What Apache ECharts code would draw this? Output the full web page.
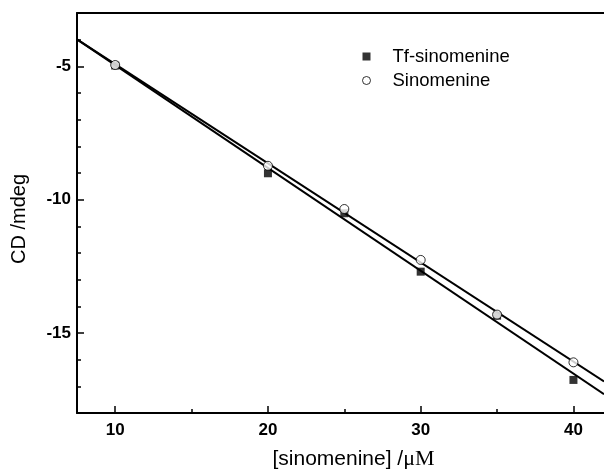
<!DOCTYPE html>
<html>
<head>
<meta charset="utf-8">
<script src="https://cdn.jsdelivr.net/npm/echarts@6/dist/echarts.min.js"></script>
<style>html,body{margin:0;padding:0;background:#fff;}#c{width:604px;height:469px;}</style>
</head>
<body>
<div id="c"></div>
<script>
const concentrations = [10, 20, 25, 30, 35, 40];
const tfSinomenine = [-4.97, -9.01, -10.51, -12.70, -14.35, -16.76];
const sinomenine = [-4.95, -8.73, -10.35, -12.26, -14.31, -16.10];
const xMajorTicks = [10, 20, 30, 40];
const xMinorTicks = [15, 25, 35];
const yMajorTicks = [-15, -10, -5];
const yMinorTicks = [-18, -17, -16, -14, -13, -12, -11, -9, -8, -7, -6, -4, -3];
const xRange = [7.5, 42];
const yRange = [-18, -3];

function fit(xs, ys) {
  const n = xs.length;
  const mx = xs.reduce((a, b) => a + b, 0) / n;
  const my = ys.reduce((a, b) => a + b, 0) / n;
  let sxy = 0, sxx = 0;
  for (let i = 0; i < n; i++) { sxy += (xs[i] - mx) * (ys[i] - my); sxx += (xs[i] - mx) ** 2; }
  const b = sxy / sxx, a = my - b * mx;
  return xRange.map(x => [x, a + b * x]);
}

const font = 'Liberation Sans, Arial, Helvetica, sans-serif';
const chart = echarts.init(document.getElementById('c'));
const baseX = { type: 'value', min: xRange[0], max: xRange[1], splitLine: { show: false } };
const baseY = { type: 'value', min: yRange[0], max: yRange[1], splitLine: { show: false } };
chart.setOption({
  animation: false,
  backgroundColor: '#fff',
  grid: { left: 77, top: 13, right: 0, bottom: 56, containLabel: false, outerBoundsMode: 'none' },
  legend: {
    orient: 'vertical', left: 357, top: 42, itemWidth: 8, itemHeight: 8, itemGap: 5,
    data: [
      { name: 'Tf-sinomenine', icon: 'rect' },
      { name: 'Sinomenine', icon: 'circle', itemStyle: { color: '#fff', borderColor: '#000', borderWidth: 1 } }
    ],
    textStyle: { fontFamily: font, fontSize: 18.5, color: '#000', padding: [0, 0, 0, 17] }
  },
  xAxis: [
    Object.assign({}, baseX, {
      position: 'bottom',
      axisLine: { show: true, onZero: false, lineStyle: { color: '#000', width: 2 } },
      axisTick: { show: true, inside: true, length: 7, customValues: xMajorTicks, lineStyle: { color: '#000', width: 1.5 } },
      axisLabel: { customValues: xMajorTicks, margin: 9, fontFamily: font, fontSize: 17, fontWeight: 'bold', color: '#000' },
      name: '[sinomenine] /{s|μM}', nameLocation: 'middle', nameGap: 35,
      nameTextStyle: { fontFamily: font, fontSize: 21, color: '#000', padding: [0, 0, 0, 26],
        rich: { s: { fontFamily: 'Liberation Serif, Times New Roman, serif', fontSize: 22, color: '#000' } } }
    }),
    Object.assign({}, baseX, {
      position: 'bottom',
      axisLine: { show: false, onZero: false },
      axisTick: { show: true, inside: true, length: 4, customValues: xMinorTicks, lineStyle: { color: '#000', width: 1.5 } },
      axisLabel: { show: false }
    }),
    Object.assign({}, baseX, {
      position: 'top',
      axisLine: { show: true, onZero: false, lineStyle: { color: '#000', width: 2 } },
      axisTick: { show: false }, axisLabel: { show: false }
    })
  ],
  yAxis: [
    Object.assign({}, baseY, {
      position: 'left',
      axisLine: { show: true, onZero: false, lineStyle: { color: '#000', width: 2 } },
      axisTick: { show: true, inside: true, length: 7, customValues: yMajorTicks, lineStyle: { color: '#000', width: 1.5 } },
      axisLabel: { customValues: yMajorTicks, margin: 6, fontFamily: font, fontSize: 17, fontWeight: 'bold', color: '#000' },
      name: 'CD /mdeg', nameLocation: 'middle', nameGap: 48,
      nameTextStyle: { fontFamily: font, fontSize: 20, color: '#000', padding: [0, 12, 0, 0] }
    }),
    Object.assign({}, baseY, {
      position: 'left',
      axisLine: { show: false, onZero: false },
      axisTick: { show: true, inside: true, length: 4, customValues: yMinorTicks, lineStyle: { color: '#000', width: 1.5 } },
      axisLabel: { show: false }
    })
  ],
  series: [
    { name: 'Tf-sinomenine fit', type: 'line', data: fit(concentrations, tfSinomenine), symbol: 'none',
      lineStyle: { color: '#000', width: 2 }, z: 2, silent: true },
    { name: 'Sinomenine fit', type: 'line', data: fit(concentrations, sinomenine), symbol: 'none',
      lineStyle: { color: '#000', width: 2 }, z: 2, silent: true },
    { name: 'Tf-sinomenine', type: 'scatter', data: concentrations.map((x, i) => [x, tfSinomenine[i]]),
      symbol: 'rect', symbolSize: 8, itemStyle: { color: '#000' }, z: 3 },
    { name: 'Sinomenine', type: 'scatter', data: concentrations.map((x, i) => [x, sinomenine[i]]),
      symbol: 'circle', symbolSize: 9, itemStyle: { color: '#fff', borderColor: '#000', borderWidth: 1 }, z: 4 }
  ]
});
</script>
</body>
</html>
